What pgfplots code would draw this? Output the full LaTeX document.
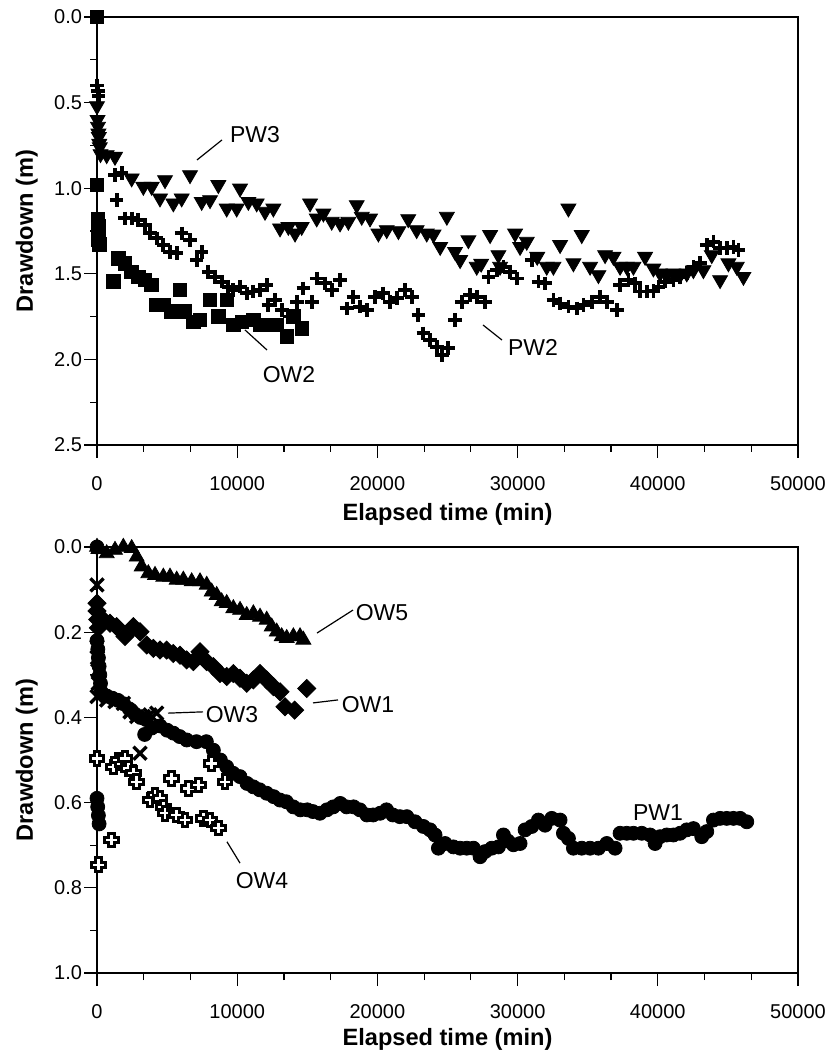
\documentclass[border=0pt]{standalone}
\usepackage{fontspec}
\setmainfont{Liberation Sans}
\usepackage{pgfplots}
\pgfplotsset{compat=1.18}

\pgfdeclareplotmark{hcross}{%
  \pgfpathmoveto{\pgfqpoint{-0.4\pgfplotmarksize}{-\pgfplotmarksize}}%
  \pgfpathlineto{\pgfqpoint{0.4\pgfplotmarksize}{-\pgfplotmarksize}}%
  \pgfpathlineto{\pgfqpoint{0.4\pgfplotmarksize}{-0.4\pgfplotmarksize}}%
  \pgfpathlineto{\pgfqpoint{\pgfplotmarksize}{-0.4\pgfplotmarksize}}%
  \pgfpathlineto{\pgfqpoint{\pgfplotmarksize}{0.4\pgfplotmarksize}}%
  \pgfpathlineto{\pgfqpoint{0.4\pgfplotmarksize}{0.4\pgfplotmarksize}}%
  \pgfpathlineto{\pgfqpoint{0.4\pgfplotmarksize}{\pgfplotmarksize}}%
  \pgfpathlineto{\pgfqpoint{-0.4\pgfplotmarksize}{\pgfplotmarksize}}%
  \pgfpathlineto{\pgfqpoint{-0.4\pgfplotmarksize}{0.4\pgfplotmarksize}}%
  \pgfpathlineto{\pgfqpoint{-\pgfplotmarksize}{0.4\pgfplotmarksize}}%
  \pgfpathlineto{\pgfqpoint{-\pgfplotmarksize}{-0.4\pgfplotmarksize}}%
  \pgfpathlineto{\pgfqpoint{-0.4\pgfplotmarksize}{-0.4\pgfplotmarksize}}%
  \pgfpathclose
  \pgfusepathqfillstroke
}

\tikzset{ann/.style={font=\fontsize{11.5}{13}\selectfont, inner sep=0pt}}

\pgfplotsset{
  myaxis/.style={
    scale only axis, width=350.5pt,
    xmin=0, xmax=50000, xtick={0,10000,...,50000}, minor x tick num=2,
    y dir=reverse, minor y tick num=1,
    scaled x ticks=false,
    xticklabel style={/pgf/number format/1000 sep={}, yshift=-5.5pt},
    yticklabel style={/pgf/number format/.cd,fixed,fixed zerofill,precision=1, /tikz/xshift=2.5pt},
    /pgf/number format/assume math mode=true,
    tick align=outside, xtick pos=left, ytick pos=left,
    major tick length=6.5pt, minor tick length=3.5pt,
    tick style={black, line width=0.6pt},
    axis line style={line width=0.6pt},
    ticklabel style={font=\fontsize{10}{12}\selectfont},
    label style={font=\bfseries\fontsize{11.8}{13}\selectfont},
    xlabel={Elapsed time (min)}, ylabel={Drawdown (m)},
    clip=false,
  },
  pw3/.style={only marks, mark=triangle*, mark size=4.3pt, mark options={rotate=180, fill=black, draw=black}},
  pw2/.style={only marks, mark=+, mark size=3.4pt, mark options={line width=1.9pt, black}},
  ow2/.style={only marks, mark=square*, mark size=3.4pt, mark options={fill=black, draw=black}},
  ow5/.style={only marks, mark=triangle*, mark size=4.3pt, mark options={fill=black, draw=black}},
  ow1/.style={only marks, mark=square*, mark size=3.2pt, mark options={rotate=45, fill=black, draw=black}},
  ow3/.style={only marks, mark=x, mark size=4.6pt, mark options={line width=1.7pt, black}},
  pw1/.style={only marks, mark=*, mark size=3.5pt, mark options={fill=black, draw=black}},
  ow4/.style={only marks, mark=hcross, mark size=3.4pt, mark options={fill=white, draw=black, line width=1.5pt}},
}

\begin{document}
\begin{tikzpicture}
\path[use as bounding box] (0pt,0pt) rectangle (415pt,526.5pt);

% ---------------- Top panel ----------------
\begin{axis}[myaxis, at={(48.5pt,304pt)}, anchor=south west, height=214pt,
  ymin=0, ymax=2.5, ytick={0,0.5,...,2.5},
  xlabel style={at={(axis description cs:0.5,-0.162)}, anchor=center},
  ylabel style={at={(axis description cs:-0.100,0.5)}, anchor=center}]
% OW2
\addplot[ow2] coordinates {
(0,0.0) (0,0.98) (50,1.18) (80,1.22) (100,1.26) (120,1.30) (150,1.33)
(1165,1.546) (1522,1.410) (1998,1.439) (2473,1.488) (2948,1.517) (3424,1.536)
(3900,1.565) (4256,1.682) (4732,1.682) (5327,1.721) (5921,1.595) (6278,1.721)
(6873,1.780) (7350,1.770) (8062,1.653) (8656,1.750) (9251,1.653) (9726,1.799)
(10321,1.780) (11153,1.770) (11629,1.799) (12223,1.799) (12818,1.799)
(13531,1.867) (14007,1.750) (14601,1.819)
};
% PW2
\addplot[pw2] coordinates {
(0,0.40) (60,0.43) (120,0.46)
(1284,0.923) (1760,0.913) (1403,1.069) (1998,1.176) (2473,1.176) (2948,1.186)
(3424,1.215) (3781,1.264) (4256,1.293) (4732,1.332) (5208,1.371) (5684,1.380)
(6040,1.264) (6635,1.303) (7110,1.419) (7467,1.371) (7943,1.488) (8418,1.517)
(8894,1.546) (9370,1.575) (9726,1.595) (10202,1.575) (10678,1.614) (11153,1.604)
(11629,1.595) (12104,1.565) (12223,1.682) (12699,1.653) (13174,1.711) (13769,1.750)
(14245,1.663) (14720,1.585) (15315,1.663) (15671,1.527) (16266,1.556) (16741,1.595)
(17336,1.536) (17812,1.702) (18287,1.634) (18763,1.692) (19238,1.711) (19833,1.634)
(20427,1.614) (20903,1.663) (21379,1.643) (21973,1.595) (22449,1.634) (22924,1.741)
(23280,1.848) (23756,1.887) (24232,1.926) (24589,1.974) (25064,1.935) (25539,1.770)
(26015,1.663) (26610,1.624) (27085,1.634) (27680,1.663) (27918,1.517) (28513,1.478)
(28989,1.458) (29464,1.488) (29939,1.527) (31009,1.419) (31484,1.546) (31960,1.556)
(32555,1.653) (33030,1.673) (33625,1.692) (34219,1.702) (34695,1.682) (35289,1.663)
(35884,1.634) (36359,1.663) (37072,1.711) (37310,1.565) (37904,1.536) (38380,1.556)
(38737,1.604) (39212,1.604) (39700,1.600) (40044,1.575) (40519,1.546) (41114,1.536)
(41589,1.517) (42065,1.497) (42540,1.458) (43016,1.438) (43492,1.331) (43967,1.312)
(44443,1.351) (44918,1.351) (45394,1.342) (45751,1.361)
};
% PW3
\addplot[pw3] coordinates {
(0,0.52) (40,0.60) (70,0.64) (100,0.68) (130,0.70) (160,0.74) (200,0.76) (250,0.80)
(690,0.806) (1284,0.816) (2473,0.942) (3305,0.991) (3900,0.991) (4494,1.059)
(4851,0.952) (5446,1.088) (6040,1.059) (6635,0.923) (7467,1.079) (8062,1.069)
(8656,0.981) (9251,1.118) (9964,1.118) (10202,1.001) (10796,1.079) (11391,1.088)
(11985,1.137) (12580,1.118) (13055,1.234) (13650,1.225) (14126,1.264) (14601,1.225)
(15196,1.088) (15671,1.176) (16147,1.147) (16741,1.195) (17336,1.205) (17930,1.195)
(18525,1.098) (18882,1.166) (19476,1.176) (20071,1.264) (20665,1.244) (21500,1.250)
(22200,1.180) (22800,1.244) (23518,1.264) (24000,1.270) (24478,1.342) (24954,1.166)
(25539,1.371) (25900,1.419) (26491,1.303) (27085,1.458) (27400,1.440) (28038,1.273)
(28631,1.390) (28750,1.458) (29820,1.264) (30177,1.342) (30653,1.312) (31400,1.400)
(32079,1.458) (32555,1.458) (33030,1.331) (33625,1.118) (33981,1.438) (34576,1.273)
(35170,1.458) (35765,1.507) (36240,1.390) (36834,1.400) (37310,1.458) (37785,1.458)
(38261,1.458) (39093,1.400) (39687,1.468) (40163,1.497) (40640,1.507) (41114,1.497)
(41589,1.507) (42065,1.497) (42540,1.478) (43254,1.478) (43848,1.390) (44443,1.536)
(45037,1.438) (45632,1.458) (46108,1.517)
};
\node[ann] at (axis cs:11270,0.689) {PW3};
\draw[line width=0.6pt] (axis cs:7133,0.835) -- (axis cs:8916,0.718);
\node[ann] at (axis cs:13695,2.091) {OW2};
\draw[line width=0.6pt] (axis cs:10556,1.828) -- (axis cs:12126,1.945);
\node[ann] at (axis cs:31098,1.928) {PW2};
\draw[line width=0.6pt] (axis cs:27532,1.799) -- (axis cs:28887,1.887);
\end{axis}

% ---------------- Bottom panel ----------------
\begin{axis}[myaxis, at={(48.5pt,40pt)}, anchor=south west, height=213pt,
  ymin=0, ymax=1.0, ytick={0,0.2,...,1.0},
  xlabel style={at={(axis description cs:0.5,-0.157)}, anchor=center},
  ylabel style={at={(axis description cs:-0.100,0.5)}, anchor=center}]
% PW1
\addplot[pw1] coordinates {
(0,0.0) (0,0.59) (50,0.61) (100,0.63) (150,0.65)
(0,0.22) (60,0.24) (100,0.26) (150,0.28) (200,0.30) (250,0.32) (300,0.34)
(700,0.350) (1100,0.355) (1500,0.360) (1900,0.368) (2300,0.380) (2700,0.392)
(3100,0.400) (3500,0.405)
(3400,0.440) (3900,0.425) (4500,0.420) (5000,0.430) (5450,0.437) (5900,0.445)
(6400,0.453) (7100,0.457) (7800,0.457) (8300,0.477) (8800,0.500) (9250,0.516)
(9700,0.531) (10200,0.539) (10700,0.555) (11150,0.563) (11600,0.570) (12100,0.578)
(12600,0.586) (13050,0.594) (13500,0.598) (14000,0.610) (14500,0.617) (15000,0.617)
(15400,0.621) (15900,0.625) (16400,0.617) (16850,0.610) (17350,0.602) (17800,0.610)
(18300,0.610) (18750,0.617) (19250,0.629) (19700,0.629) (20200,0.625) (20650,0.617)
(21100,0.629) (21600,0.633) (22100,0.633) (22686,0.645) (23280,0.656) (23756,0.664)
(24113,0.676) (24351,0.707) (24827,0.696) (25420,0.704) (25896,0.707) (26372,0.707)
(26848,0.707) (27324,0.727) (27680,0.715) (28156,0.707) (28631,0.704) (28988,0.676)
(29300,0.690) (29701,0.699) (30177,0.696) (30534,0.664) (31009,0.656) (31484,0.641)
(31960,0.653) (32435,0.637) (33030,0.641) (33268,0.672) (33625,0.684) (33981,0.707)
(34576,0.707) (35170,0.707) (35765,0.707) (36359,0.696) (36954,0.707) (37310,0.672)
(37785,0.672) (38261,0.672) (38856,0.672) (39450,0.676) (39806,0.696) (40163,0.680)
(40638,0.676) (41114,0.676) (41589,0.672) (42065,0.664) (42540,0.661) (43135,0.680)
(43492,0.668) (43967,0.641) (44443,0.637) (44918,0.637) (45394,0.637) (45870,0.637)
(46346,0.645)
};
% OW3
\addplot[ow3] coordinates {
(0,0.089) (0,0.234) (30,0.26) (60,0.29) (90,0.32) (0,0.351)
(690,0.359) (1284,0.363) (1879,0.367) (2354,0.387) (2830,0.398) (3305,0.398)
(3781,0.394) (4256,0.390) (3068,0.484)
};
% OW1
\addplot[ow1] coordinates {
(0,0.132) (0,0.150) (50,0.170) (100,0.190)
(452,0.171) (927,0.179) (1403,0.187) (1998,0.210) (2592,0.187) (3068,0.199)
(3543,0.230) (4019,0.238) (4494,0.242) (4970,0.242) (5446,0.250) (5921,0.254)
(6397,0.265) (6873,0.269) (7348,0.246) (7824,0.269) (8299,0.281) (8775,0.297)
(9251,0.304) (9726,0.297) (10202,0.308) (10678,0.320) (11153,0.312) (11629,0.297)
(12104,0.312) (12580,0.328) (13055,0.340) (13412,0.375) (14100,0.383) (14958,0.332)
};
% OW5
\addplot[ow5] coordinates {
(0,0) (100,0.005) (690,0.015) (1284,0.007) (1879,0) (2473,0.003) (2830,0.023)
(3187,0.046) (3662,0.062) (4138,0.066) (4732,0.070) (5208,0.070) (5684,0.077)
(6159,0.077) (6754,0.081) (7348,0.081) (7824,0.089) (8180,0.105) (8537,0.113)
(8894,0.128) (9251,0.132) (9726,0.144) (10202,0.148) (10678,0.160) (11153,0.156)
(11629,0.164) (12104,0.171) (12461,0.187) (12818,0.199) (13174,0.210) (13531,0.214)
(14007,0.210) (14482,0.210) (14720,0.218)
};
% OW4
\addplot[ow4] coordinates {
(0,0.496) (95,0.746) (1046,0.688) (1165,0.516) (1522,0.500) (1998,0.496)
(2235,0.520) (2592,0.531) (2830,0.551) (3781,0.594) (4138,0.582) (4494,0.590)
(4732,0.610) (4851,0.625) (5327,0.543) (5684,0.629) (6278,0.641) (6516,0.567)
(7229,0.559) (7586,0.637) (8062,0.641) (8180,0.508) (8656,0.660) (9132,0.551)
};
\node[ann] at (axis cs:20328,0.153) {OW5};
\draw[line width=0.6pt] (axis cs:15692,0.202) -- (axis cs:18260,0.148);
\node[ann] at (axis cs:19330,0.371) {OW1};
\draw[line width=0.6pt] (axis cs:15407,0.366) -- (axis cs:17190,0.359);
\node[ann] at (axis cs:9629,0.394) {OW3};
\draw[line width=0.6pt] (axis cs:5064,0.390) -- (axis cs:7561,0.387);
\node[ann] at (axis cs:11769,0.784) {OW4};
\draw[line width=0.6pt] (axis cs:9272,0.692) -- (axis cs:10200,0.742);
\node[ann] at (axis cs:40014,0.624) {PW1};
\end{axis}
\end{tikzpicture}
\end{document}
